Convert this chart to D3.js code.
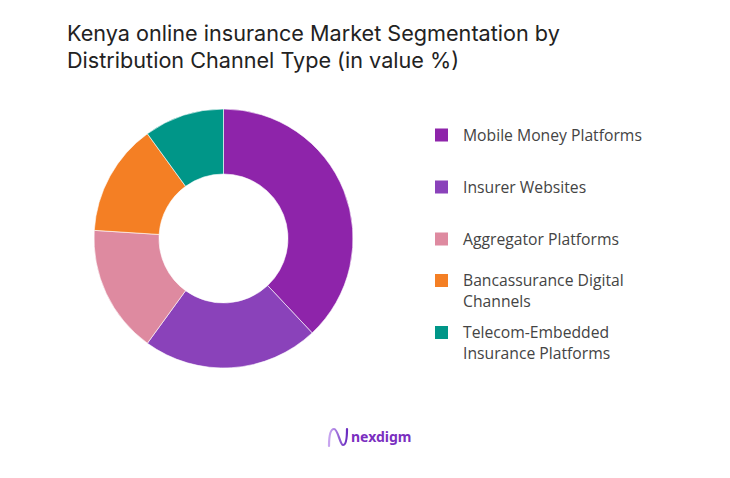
<!DOCTYPE html>
<html>
<head>
<meta charset="utf-8">
<script src="https://cdn.jsdelivr.net/npm/d3@7/dist/d3.min.js"></script>
<style>
  html, body { margin: 0; padding: 0; background: #ffffff; }
  svg { display: block; }
</style>
</head>
<body>
<svg id="chart" width="730" height="478"></svg>
<script>
const titleLines = ["Kenya online insurance Market Segmentation by", "Distribution Channel Type (in value %)"];
const categories = ["Mobile Money Platforms", "Insurer Websites", "Aggregator Platforms", "Bancassurance Digital Channels", "Telecom-Embedded Insurance Platforms"];
const legendLines = [["Mobile Money Platforms"], ["Insurer Websites"], ["Aggregator Platforms"], ["Bancassurance Digital", "Channels"], ["Telecom-Embedded", "Insurance Platforms"]];
const values = [38, 22, 16, 14, 10];
const colors = ["#8e24aa", "#8a42ba", "#de8aa0", "#f47f24", "#009688"];
const brand = "nexdigm";

const svg = d3.select("#chart");
svg.append("rect").attr("width", 730).attr("height", 478).attr("fill", "#fff");

// Title
const title = svg.append("g");
titleLines.forEach((t, i) => {
  title.append("text")
    .attr("x", 67).attr("y", 41 + i * 27)
    .attr("font-family", "Inter, 'Noto Sans', sans-serif")
    .attr("font-weight", 400)
    .attr("font-size", 19)
    .attr("fill", "#222")
    .text(t);
});
const first = title.select("text").node();
const fs = 19 * 493 / first.getComputedTextLength();
title.selectAll("text").attr("font-size", fs);

// Donut
const cx = 223.5, cy = 238.5, R = 129.5, r = 64.5;
const pie = d3.pie().sort(null).value(d => d)(values);
const arc = d3.arc().innerRadius(r).outerRadius(R);
const g = svg.append("g").attr("transform", `translate(${cx},${cy})`);
g.selectAll("path").data(pie).enter().append("path")
  .attr("d", arc)
  .attr("fill", (d, i) => colors[i])
  .attr("stroke", "#fff")
  .attr("stroke-width", 0.6);

// Legend
const centers = d3.range(categories.length).map(i => 135 + i * 52);
const lg = svg.append("g");
legendLines.forEach((lines, i) => {
  const lh = 21;
  const top = centers[i] - (lines.length - 1) * lh / 2;
  lg.append("rect")
    .attr("x", 435).attr("y", top - 6.5)
    .attr("width", 13).attr("height", 13)
    .attr("fill", colors[i]);
  lines.forEach((ln, j) => {
    lg.append("text")
      .attr("x", 463).attr("y", top + j * lh)
      .attr("dy", "0.35em")
      .attr("font-family", "'Open Sans', 'Noto Sans', sans-serif")
      .attr("font-size", 14)
      .attr("fill", "#444")
      .text(ln);
  });
});
const lfirst = lg.select("text").node();
const lfs = 14 * 179 / lfirst.getComputedTextLength();
lg.selectAll("text").attr("font-size", lfs);

// Brand logo
const logo = svg.append("g").attr("transform", "translate(328,428)");
const grad = svg.append("defs").append("linearGradient").attr("id", "lg1")
  .attr("x1", "0").attr("x2", "1").attr("y1", "0").attr("y2", "0");
grad.append("stop").attr("offset", "0").attr("stop-color", "#c9a6f0");
grad.append("stop").attr("offset", "1").attr("stop-color", "#6a2cc0");
logo.append("path")
  .attr("d", "M1,18 C1,6 3,1 6,1 C10,1 12,17 15,17 C18,17 19,12 19,1")
  .attr("fill", "none").attr("stroke", "url(#lg1)").attr("stroke-width", 2.2)
  .attr("stroke-linecap", "round");
logo.append("text")
  .attr("x", 23).attr("y", 14)
  .attr("font-family", "'Noto Sans', sans-serif")
  .attr("font-weight", 700)
  .attr("font-size", 14)
  .attr("fill", "#7b2fc0")
  .text(brand);
</script>
</body>
</html>
